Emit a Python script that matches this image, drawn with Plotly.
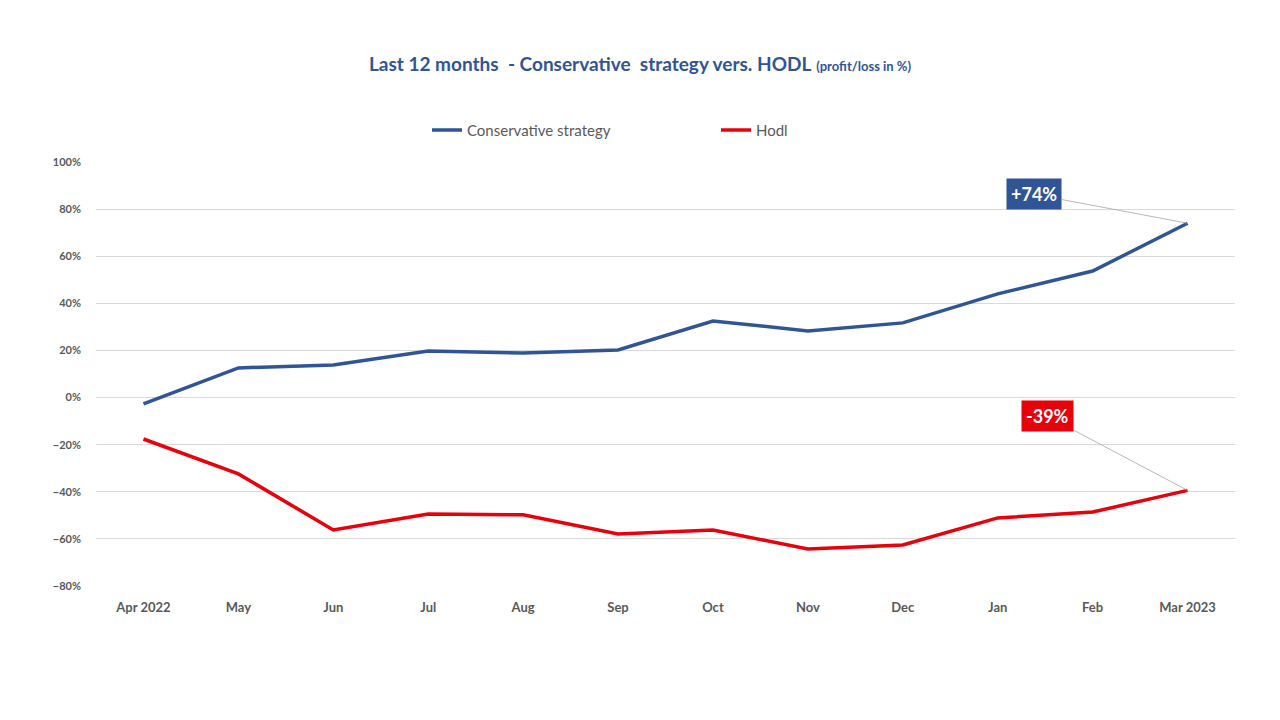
import plotly.graph_objects as go

months = ["Apr 2022", "May", "Jun", "Jul", "Aug", "Sep", "Oct", "Nov", "Dec", "Jan", "Feb", "Mar 2023"]
conservative = [-2.7, 12.6, 13.8, 19.8, 18.9, 20.2, 32.5, 28.3, 31.7, 44.0, 53.7, 74.0]
hodl = [-17.6, -32.4, -56.2, -49.4, -49.8, -57.9, -56.2, -64.3, -62.6, -51.1, -48.6, -39.4]
labels = ["+74%", "-39%"]

BLUE = "#2F5597"
RED = "#E8000B"
GRAY = "#595959"
FONT = "Lato"

fig = go.Figure()
fig.add_trace(go.Scatter(x=months, y=conservative, mode="lines", name="Conservative strategy",
                         line=dict(color=BLUE, width=3.5)))
fig.add_trace(go.Scatter(x=months, y=hodl, mode="lines", name="Hodl",
                         line=dict(color=RED, width=3.5)))

fig.add_annotation(x=months[-1], y=conservative[-1], text="<b>" + labels[0] + "</b>",
                   showarrow=True, arrowhead=0, arrowwidth=0.8, arrowcolor="#A6A6A6",
                   ax=-154, ay=-29, bgcolor=BLUE, borderpad=4,
                   font=dict(family=FONT, size=18, color="white"))
fig.add_annotation(x=months[-1], y=hodl[-1], text="<b>" + labels[1] + "</b>",
                   showarrow=True, arrowhead=0, arrowwidth=0.8, arrowcolor="#A6A6A6",
                   ax=-140, ay=-74, bgcolor=RED, borderpad=4,
                   font=dict(family=FONT, size=18, color="white"))

fig.update_layout(
    width=1280, height=720,
    paper_bgcolor="white", plot_bgcolor="white",
    margin=dict(l=96, r=45, t=162, b=134),
    title=dict(text="<b>Last 12 months  - Conservative  strategy vers. HODL</b> <span style='font-size:13px'><b>(profit/loss in %)</b></span>",
               x=0.5, xanchor="center", y=0.91, yanchor="middle",
               font=dict(family=FONT, size=19, color=BLUE)),
    legend=dict(orientation="h", x=(437 - 96 - 10) / 1139, xanchor="left", y=1.075, yanchor="middle",
                entrywidth=244, entrywidthmode="pixels", itemwidth=30,
                font=dict(family=FONT, size=15, color=GRAY)),
    xaxis=dict(type="category", range=[-0.5, 11.5], showgrid=False, zeroline=False, showline=False,
               ticks="", ticklabelstandoff=12,
               tickfont=dict(family=FONT, size=13, color=GRAY, weight="bold")),
    yaxis=dict(range=[-80, 100], dtick=20, ticksuffix="%", showgrid=True,
               gridcolor="#D9D9D9", gridwidth=1, zeroline=True, zerolinecolor="#D9D9D9",
               zerolinewidth=1, showline=False, ticks="", ticklabelstandoff=14,
               tickfont=dict(family=FONT, size=11, color=GRAY, weight="bold")),
)

fig.write_html("out.html")
